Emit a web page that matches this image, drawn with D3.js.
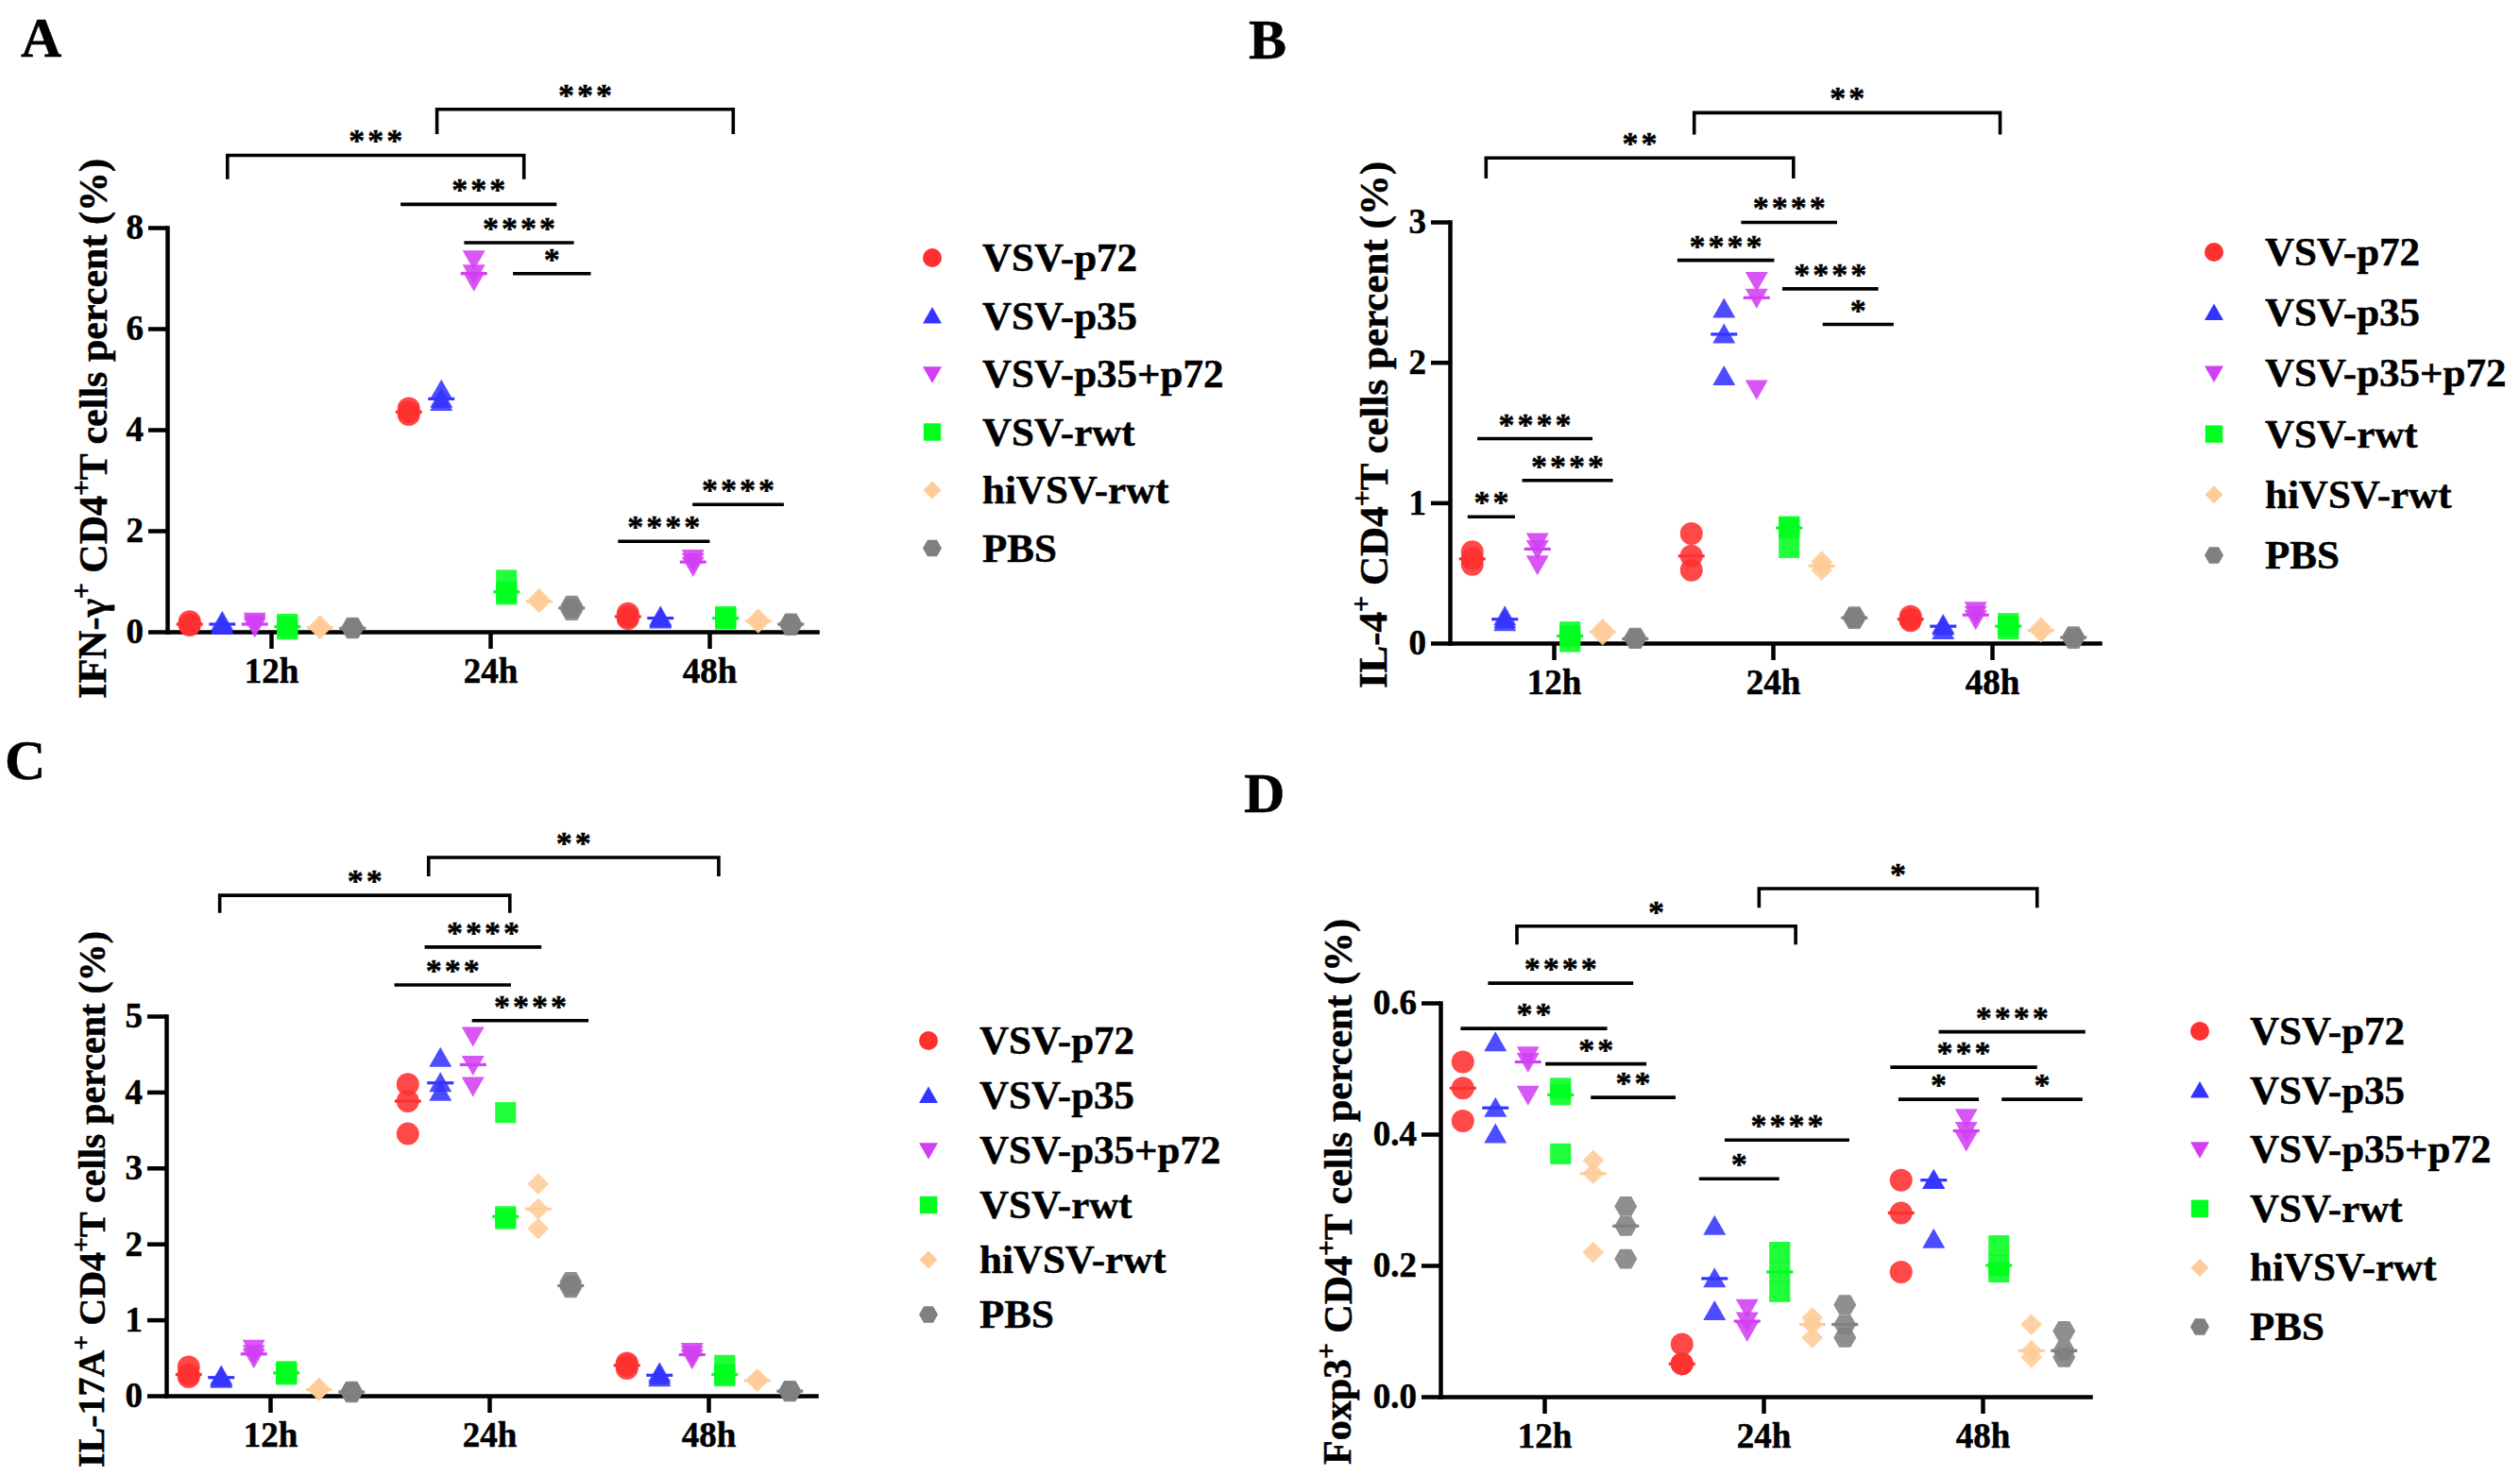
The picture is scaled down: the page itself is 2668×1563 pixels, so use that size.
<!DOCTYPE html>
<html>
<head>
<meta charset="utf-8">
<script src="https://cdn.jsdelivr.net/npm/d3@7/dist/d3.min.js"></script>
<style>
  html, body { margin: 0; padding: 0; background: #fff; }
  svg { display: block; }
  text { font-family: "Liberation Serif", "Times New Roman", serif; font-weight: bold; fill: #000; stroke: #000; stroke-width: 0.5px; }
</style>
</head>
<body>
<svg id="chart" width="2668" height="1563"></svg>
<script>
// ---------------- DATA ----------------
const groups = ["VSV-p72", "VSV-p35", "VSV-p35+p72", "VSV-rwt", "hiVSV-rwt", "PBS"];
const times = ["12h", "24h", "48h"];
const colors = ["#ff3030", "#3434ff", "#d23ff2", "#00ff1e", "#ffcc99", "#808080"];
const shapes = ["circle", "triangleUp", "triangleDown", "square", "diamond", "hexagon"];

// replicate values [group][time][replicate]
const ifnG = [
  [[0.20, 0.15, 0.13], [4.42, 4.35, 4.30], [0.36, 0.30, 0.26]],
  [[0.20, 0.15, 0.12], [4.78, 4.61, 4.55], [0.30, 0.27, 0.24]],
  [[0.20, 0.15, 0.10], [7.37, 7.09, 6.95], [1.45, 1.38, 1.30]],
  [[0.15, 0.10, 0.05], [1.02, 0.79, 0.74], [0.30, 0.27, 0.25]],
  [[0.12, 0.08, 0.06], [0.65, 0.60, 0.58], [0.25, 0.21, 0.18]],
  [[0.09, 0.07, 0.06], [0.52, 0.47, 0.42], [0.17, 0.15, 0.12]]
];
const il4 = [
  [[0.65, 0.60, 0.56], [0.78, 0.62, 0.52], [0.19, 0.17, 0.16]],
  [[0.19, 0.17, 0.15], [2.38, 2.20, 1.90], [0.13, 0.12, 0.09]],
  [[0.72, 0.67, 0.56], [2.58, 2.46, 1.81], [0.23, 0.20, 0.17]],
  [[0.08, 0.05, 0.01], [0.83, 0.82, 0.68], [0.14, 0.12, 0.10]],
  [[0.10, 0.08, 0.06], [0.58, 0.55, 0.52], [0.11, 0.09, 0.08]],
  [[0.04, 0.03, 0.03], [0.19, 0.18, 0.17], [0.05, 0.04, 0.03]]
];
const il17a = [
  [[0.38, 0.28, 0.25], [4.10, 3.88, 3.45], [0.43, 0.40, 0.36]],
  [[0.26, 0.24, 0.22], [4.45, 4.12, 4.00], [0.30, 0.27, 0.24]],
  [[0.62, 0.55, 0.50], [4.74, 4.36, 4.08], [0.58, 0.54, 0.49]],
  [[0.32, 0.30, 0.28], [3.73, 2.36, 2.33], [0.40, 0.28, 0.26]],
  [[0.10, 0.08, 0.07], [2.79, 2.46, 2.20], [0.22, 0.20, 0.19]],
  [[0.06, 0.05, 0.04], [1.50, 1.45, 1.42], [0.07, 0.06, 0.05]]
];
const foxp3 = [
  [[0.51, 0.47, 0.42], [0.08, 0.05, 0.05], [0.33, 0.28, 0.19]],
  [[0.54, 0.44, 0.40], [0.26, 0.18, 0.13], [0.33, 0.33, 0.24]],
  [[0.52, 0.51, 0.46], [0.135, 0.115, 0.10], [0.425, 0.405, 0.39]],
  [[0.47, 0.46, 0.37], [0.22, 0.19, 0.16], [0.23, 0.20, 0.19]],
  [[0.36, 0.34, 0.22], [0.12, 0.11, 0.09], [0.11, 0.07, 0.06]],
  [[0.29, 0.26, 0.21], [0.14, 0.11, 0.09], [0.10, 0.07, 0.06]]
];

// y tick labels
const ticksA = [0, 2, 4, 6, 8];
const ticksB = [0, 1, 2, 3];
const ticksC = [0, 1, 2, 3, 4, 5];
const ticksD = [0.0, 0.2, 0.4, 0.6];

// significance annotations: [x1 (time units), x2, y (data units), stars, bracket tick end y or null]
const sigA = [
  [-0.199, 1.154, 9.43, "***", 8.96],
  [0.757, 2.109, 10.34, "***", 9.85],
  [0.591, 1.303, 8.46, "***", null],
  [0.881, 1.382, 7.70, "****", null],
  [1.104, 1.459, 7.09, "*", null],
  [1.583, 2.002, 1.79, "****", null],
  [1.923, 2.340, 2.52, "****", null]
];
const sigB = [
  [-0.309, 1.094, 3.456, "**", 3.31],
  [0.641, 2.037, 3.778, "**", 3.622],
  [0.855, 1.293, 2.997, "****", null],
  [0.564, 1.006, 2.727, "****", null],
  [1.043, 1.481, 2.523, "****", null],
  [1.227, 1.551, 2.27, "*", null],
  [-0.349, 0.177, 1.456, "****", null],
  [-0.144, 0.270, 1.159, "****", null],
  [-0.393, -0.177, 0.90, "**", null]
];
const sigC = [
  [-0.230, 1.094, 6.59, "**", 6.36],
  [0.723, 2.047, 7.09, "**", 6.84],
  [0.705, 1.238, 5.91, "****", null],
  [0.567, 1.099, 5.41, "***", null],
  [0.921, 1.453, 4.94, "****", null]
];
const sigD = [
  [-0.125, 1.147, 0.717, "*", 0.689],
  [0.980, 2.249, 0.774, "*", 0.745],
  [-0.257, 0.406, 0.630, "****", null],
  [-0.382, 0.287, 0.561, "**", null],
  [0.005, 0.466, 0.507, "**", null],
  [0.212, 0.599, 0.456, "**", null],
  [0.823, 1.392, 0.391, "****", null],
  [0.706, 1.072, 0.332, "*", null],
  [1.800, 2.469, 0.556, "****", null],
  [1.579, 2.249, 0.502, "***", null],
  [1.616, 1.983, 0.453, "*", null],
  [2.087, 2.456, 0.453, "*", null]
];

// ---------------- LAYOUT ----------------
const panels = [
  { letter: "A", lx: 22, ly: 60, data: ifnG, ticks: ticksA, yMax: 8, fmt: d3.format("d"), sig: sigA,
    x0: 177, y0: 669, yTop: 241, labelX: 112, labelY: 454, labelSize: 42,
    labelMain: ["IFN-γ", "+", " CD4", "+", "T cells percent (%)"],
    legX: 987, legY: 273, legDy: 61.5, legTx: 1040 },
  { letter: "B", lx: 1322, ly: 62, data: il4, ticks: ticksB, yMax: 3, fmt: d3.format("d"), sig: sigB,
    x0: 1535, y0: 681, yTop: 235, labelX: 1468, labelY: 450, labelSize: 43,
    labelMain: ["IL-4", "+", " CD4", "+", "T cells percent (%)"],
    legX: 2344, legY: 267, legDy: 64.2, legTx: 2398 },
  { letter: "C", lx: 5, ly: 825, data: il17a, ticks: ticksC, yMax: 5, fmt: d3.format("d"), sig: sigC,
    x0: 176, y0: 1478, yTop: 1076, labelX: 110, labelY: 1270, labelSize: 40,
    labelMain: ["IL-17A", "+", " CD4", "+", "T cells percent (%)"],
    legX: 983, legY: 1102, legDy: 58, legTx: 1037 },
  { letter: "D", lx: 1317, ly: 860, data: foxp3, ticks: ticksD, yMax: 0.6, fmt: d3.format(".1f"), sig: sigD,
    x0: 1525, y0: 1479, yTop: 1062, labelX: 1430, labelY: 1262, labelSize: 42,
    labelMain: ["Foxp3", "+", " CD4", "+", "T cells percent (%)"],
    legX: 2329, legY: 1092, legDy: 62.6, legTx: 2382 }
];

const X_TO_12H = 110, GROUP_SPACING = 232, AXIS_LEN = 688, POINT_STEP = 34.5;
const AXIS_W = 4.5, SIG_W = 3.6;

// custom symbol types (size = half width in px)
const symbolTypes = {
  circle: { draw(c, s) { c.moveTo(s, 0); c.arc(0, 0, s, 0, 2 * Math.PI); } },
  triangleUp: { draw(c, s) { const h = s * 1.75; c.moveTo(0, -h * 0.55); c.lineTo(s, h * 0.45); c.lineTo(-s, h * 0.45); c.closePath(); } },
  triangleDown: { draw(c, s) { const h = s * 1.75; c.moveTo(0, h * 0.55); c.lineTo(s, -h * 0.45); c.lineTo(-s, -h * 0.45); c.closePath(); } },
  square: { draw(c, s) { const a = s * 0.92; c.rect(-a, -a, 2 * a, 2 * a); } },
  diamond: { draw(c, s) { const a = s * 0.95; c.moveTo(0, -a); c.lineTo(a, 0); c.lineTo(0, a); c.lineTo(-a, 0); c.closePath(); } },
  hexagon: { draw(c, s) { const h = s * 0.866; c.moveTo(s, 0); c.lineTo(s / 2, h); c.lineTo(-s / 2, h); c.lineTo(-s, 0); c.lineTo(-s / 2, -h); c.lineTo(s / 2, -h); c.closePath(); } }
};
const symbolPath = (shape, size) => d3.symbol().type(symbolTypes[shape]).size(size)();

const svg = d3.select("#chart");

panels.forEach(p => {
  const g = svg.append("g");
  const slotMin = -X_TO_12H / GROUP_SPACING;
  const slotMax = (AXIS_LEN - X_TO_12H) / GROUP_SPACING;
  const x = d3.scaleLinear().domain([slotMin, slotMax]).range([p.x0, p.x0 + AXIS_LEN]);
  const y = d3.scaleLinear().domain([0, p.yMax]).range([p.y0, p.yTop]);

  // panel letter
  g.append("text").attr("x", p.lx).attr("y", p.ly).attr("font-size", 60).text(p.letter);

  // axes
  const yAxis = d3.axisLeft(y).tickValues(p.ticks).tickFormat(p.fmt).tickSize(20).tickSizeOuter(0).tickPadding(5);
  const gy = g.append("g").attr("transform", `translate(${p.x0},0)`).call(yAxis);
  const xAxis = d3.axisBottom(x).tickValues([0, 1, 2]).tickFormat(i => times[i]).tickSize(18).tickSizeOuter(0).tickPadding(10);
  const gx = g.append("g").attr("transform", `translate(0,${p.y0})`).call(xAxis);
  [gx, gy].forEach(a => {
    a.attr("font-family", null).attr("font-size", null);
    a.selectAll("path.domain").attr("stroke", "#000").attr("stroke-width", AXIS_W).attr("stroke-linecap", "square");
    a.selectAll(".tick line").attr("stroke", "#000").attr("stroke-width", AXIS_W);
    a.selectAll(".tick text").attr("font-size", 37).attr("fill", "#000");
  });

  // y-axis label
  const lab = g.append("text")
    .attr("transform", `translate(${p.labelX},${p.labelY}) rotate(-90)`)
    .attr("text-anchor", "middle").attr("font-size", p.labelSize);
  p.labelMain.forEach((s, i) => {
    const t = lab.append("tspan").text(s);
    if (s === "+") t.attr("font-size", p.labelSize * 0.7).attr("dy", "-0.55em");
    else if (i > 0) t.attr("dy", "0.4em");
  });

  // points + median lines
  p.data.forEach((series, gi) => {
    series.forEach((reps, ti) => {
      const cx = x(ti + (gi - 2.5) * POINT_STEP / GROUP_SPACING);
      g.selectAll(null).data(reps).enter().append("path")
        .attr("d", symbolPath(shapes[gi], 12))
        .attr("transform", v => `translate(${cx},${y(v)})`)
        .attr("fill", colors[gi]).attr("fill-opacity", 0.88);
      const med = d3.median(reps);
      g.append("line")
        .attr("x1", cx - 14).attr("x2", cx + 14)
        .attr("y1", y(med)).attr("y2", y(med))
        .attr("stroke", colors[gi]).attr("stroke-width", 3.2);
    });
  });

  // significance lines / brackets
  p.sig.forEach(([a, b, yv, stars, tickEnd]) => {
    const x1 = x(a), x2 = x(b), yy = y(yv);
    if (tickEnd !== null) {
      g.append("path")
        .attr("d", d3.line()([[x1, y(tickEnd)], [x1, yy], [x2, yy], [x2, y(tickEnd)]]))
        .attr("fill", "none").attr("stroke", "#000").attr("stroke-width", SIG_W);
    } else {
      g.append("line").attr("x1", x1).attr("x2", x2).attr("y1", yy).attr("y2", yy)
        .attr("stroke", "#000").attr("stroke-width", SIG_W);
    }
    g.append("text").attr("x", (x1 + x2) / 2 + 1.5).attr("y", yy - 4)
      .attr("text-anchor", "middle").attr("font-size", 34).attr("letter-spacing", 3)
      .text(stars);
  });

  // legend
  groups.forEach((name, gi) => {
    const ly = p.legY + gi * p.legDy;
    g.append("path").attr("d", symbolPath(shapes[gi], 10))
      .attr("transform", `translate(${p.legX},${ly})`).attr("fill", colors[gi]);
    g.append("text").attr("x", p.legTx).attr("y", ly + 14).attr("font-size", 43).text(name);
  });
});
</script>
</body>
</html>
